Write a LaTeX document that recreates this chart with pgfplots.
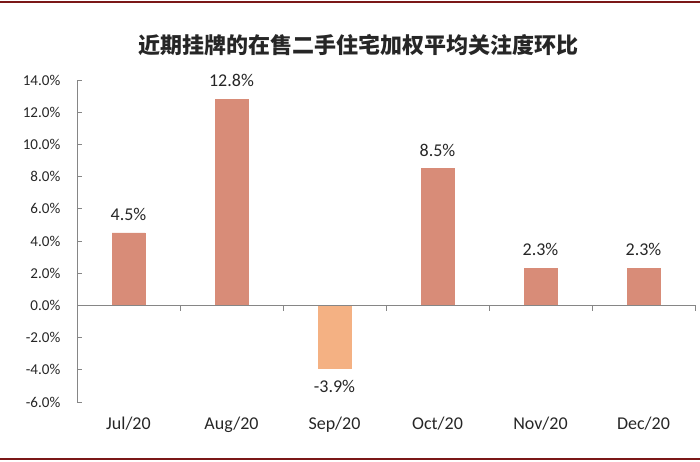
\documentclass[border=0pt]{standalone}
\usepackage{pgfplots}
\pgfplotsset{compat=1.18}
\usepackage{fontspec}
\setmainfont{Carlito}
\newfontfamily\cjk{Noto Sans CJK SC}

\definecolor{barc}{HTML}{D88C78}
\definecolor{barsep}{HTML}{F4B183}
\definecolor{axc}{HTML}{868686}
\definecolor{brd}{HTML}{7B1818}
\definecolor{txt}{HTML}{262626}

\begin{document}
\begin{tikzpicture}
\useasboundingbox (0,0) rectangle (525pt,345.75pt);
\draw[brd, line width=1.5pt] (0,344.6pt) -- (525pt,344.6pt);
\draw[brd, line width=1.5pt] (0,1.2pt) -- (525pt,1.2pt);
\node[font=\cjk\bfseries\fontsize{16.5}{18}\selectfont, text=txt] at (269pt,312pt) {近期挂牌的在售二手住宅加权平均关注度环比};
\begin{axis}[
  at={(57.75pt,44.25pt)}, anchor=south west,
  scale only axis, width=463.5pt, height=241.5pt,
  xmin=-0.5, xmax=5.5, ymin=-6, ymax=14,
  axis y line*=left, axis x line*=bottom,
  x axis line style={draw=none},
  y axis line style={axc, line width=0.6pt},
  ytick={-6,-4,...,14},
  ytick style={axc, line width=0.6pt},
  tick align=inside,
  major tick length=3.75pt,
  /pgf/number format/assume math mode=true,
  yticklabel={\pgfmathprintnumber[fixed,fixed zerofill,precision=1]{\tick}\%},
  yticklabel style={font=\fontsize{11.3}{13}\selectfont, text=txt, xshift=-9pt},
  xtick={0,...,5},
  xticklabels={Jul/20,Aug/20,Sep/20,Oct/20,Nov/20,Dec/20},
  xtick style={draw=none},
  xticklabel style={font=\fontsize{13.5}{15}\selectfont, text=txt, yshift=-8pt},
  nodes near coords={\pgfmathprintnumber[fixed,fixed zerofill,precision=1]{\pgfplotspointmeta}\%},
  nodes near coords align=vertical,
  every node near coord/.append style={font=\fontsize{13.5}{15}\selectfont, text=txt, inner ysep=9pt},
  clip=false,
]
\addplot[ybar, bar shift=0pt, bar width=24.75pt, fill=barc, draw=barc] coordinates {(0,4.5) (1,12.8) (3,8.5) (4,2.3) (5,2.3)};
\addplot[ybar, bar shift=0pt, bar width=24.75pt, fill=barsep, draw=barsep] coordinates {(2,-3.9)};
\draw[axc, line width=0.6pt] (axis cs:-0.5,0) -- (axis cs:5.5,0);
\pgfplotsinvokeforeach{0.5,1.5,2.5,3.5,4.5,5.5}{\draw[axc, line width=0.6pt] (axis cs:#1,0) -- ([yshift=-4pt]axis cs:#1,0);}
\end{axis}
\end{tikzpicture}
\end{document}
